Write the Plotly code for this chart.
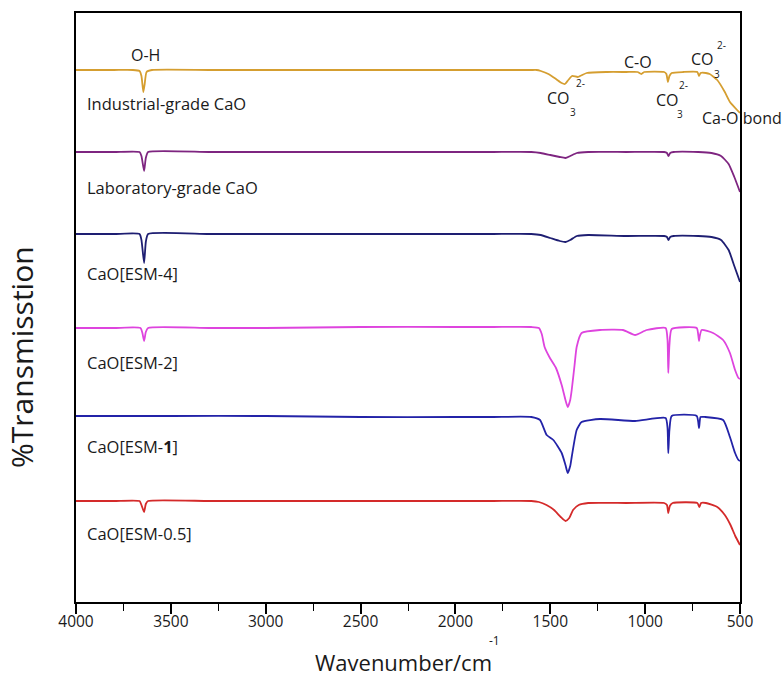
import plotly.graph_objects as go

# ---- data: wavenumber (cm^-1) and transmittance (arbitrary stacked units) ----
ind_w = [4000, 3800, 3700, 3665, 3655, 3645, 3638, 3628, 3600, 3300, 3000, 2500, 2000, 1800, 1600, 1572, 1550, 1510, 1470, 1440, 1423, 1405, 1385, 1354, 1308, 1200, 1100, 1040, 1020, 1005, 900, 888, 880, 872, 860, 800, 725, 716, 708, 680, 660, 620, 580, 553, 525, 500]
ind_t = [532, 532, 532, 531, 526, 510, 518, 530, 532, 532, 532, 532, 532, 532, 532, 532, 531, 528, 523, 519, 518, 522, 526, 525, 529, 530, 530, 530, 528, 530, 530, 528, 520, 526, 529, 530, 530, 526, 529, 529, 528, 522, 510, 500, 494, 489]

lab_w = [4000, 3800, 3665, 3655, 3641, 3632, 3620, 3300, 3000, 2500, 2000, 1800, 1600, 1550, 1500, 1450, 1420, 1395, 1360, 1300, 1100, 900, 885, 877, 868, 850, 720, 650, 600, 560, 530, 500]
lab_t = [450, 450, 450, 446, 431, 444, 450, 450, 450, 450, 450, 450, 450, 449, 447, 445, 444, 446, 449, 450, 450, 450, 449, 446, 449, 450, 450, 449, 446, 438, 425, 410]

esm4_w = [4000, 3800, 3665, 3655, 3641, 3632, 3620, 3300, 3000, 2500, 2000, 1800, 1600, 1550, 1500, 1450, 1420, 1395, 1360, 1300, 1100, 900, 885, 877, 868, 850, 720, 650, 600, 560, 530, 500]
esm4_t = [368, 368, 368, 362, 339, 360, 368, 368, 368, 368, 368, 368, 368, 367, 364, 361, 360, 362, 366, 367, 366, 366, 365, 362, 365, 366, 366, 365, 362, 352, 336, 320]

esm2_w = [4000, 3800, 3660, 3650, 3641, 3632, 3620, 3300, 3000, 2500, 2000, 1800, 1600, 1560, 1545, 1530, 1502, 1470, 1440, 1420, 1408, 1395, 1387, 1372, 1361, 1335, 1238, 1117, 1053, 992, 892, 882, 878, 872, 860, 728, 720, 716, 712, 702, 642, 589, 553, 526, 508, 500]
esm2_t = [274, 274, 274, 269, 261, 270, 274, 274, 274, 275, 275, 275, 275, 274, 268, 255, 244, 234, 217, 202, 195, 202, 212, 237, 255, 269, 272, 272, 267, 272, 274, 262, 229, 257, 273, 274, 267, 261, 266, 272, 269, 262, 249, 232, 224, 223]

esm1_w = [4000, 3500, 3000, 2500, 2000, 1800, 1600, 1554, 1519, 1484, 1440, 1420, 1408, 1395, 1387, 1361, 1335, 1238, 1053, 892, 882, 878, 872, 860, 728, 716, 708, 684, 589, 553, 526, 508, 500]
esm1_t = [186, 186, 186, 185, 185, 185, 185, 182, 167, 162, 149, 137, 129, 136, 145, 172, 180, 183, 181, 184, 174, 149, 172, 186, 186, 174, 185, 185, 182, 165, 149, 142, 141]

esm05_w = [4000, 3800, 3665, 3655, 3641, 3632, 3620, 3300, 3000, 2500, 2000, 1800, 1600, 1560, 1520, 1480, 1445, 1420, 1400, 1380, 1350, 1300, 1100, 900, 885, 878, 870, 855, 725, 714, 705, 680, 620, 580, 550, 525, 500]
esm05_t = [101, 101, 101, 97, 90, 98, 101, 101, 101, 101, 101, 101, 101, 100, 97, 92, 85, 81, 84, 92, 97, 99, 99, 99, 97, 89, 96, 99, 99, 95, 99, 99, 95, 87, 77, 66, 57]

series_names = ["Industrial-grade CaO", "Laboratory-grade CaO", "CaO[ESM-4]",
                "CaO[ESM-2]", "CaO[ESM-<b>1</b>]", "CaO[ESM-0.5]"]
series_w = [ind_w, lab_w, esm4_w, esm2_w, esm1_w, esm05_w]
series_t = [ind_t, lab_t, esm4_t, esm2_t, esm1_t, esm05_t]
series_colors = ["#D59E30", "#7E2580", "#1E1E72", "#DE44DE", "#2323A8", "#D42A2A"]
label_t = [499, 415, 329, 240, 156, 69]

x_ticks = [4000, 3500, 3000, 2500, 2000, 1500, 1000, 500]

FONT = "Open Sans"
TXT = "#1a1a1a"

fig = go.Figure()
for w, t, c, nm in zip(series_w, series_t, series_colors, series_names):
    fig.add_trace(go.Scatter(x=w, y=t, mode="lines", name=nm,
                             line=dict(color=c, width=1.8, shape="spline", smoothing=0.5),
                             showlegend=False, hoverinfo="skip"))

anns = []
for nm, yt in zip(series_names, label_t):
    anns.append(dict(x=3955, y=yt, xref="x", yref="y", text=nm, showarrow=False,
                     xanchor="left", yanchor="middle",
                     font=dict(family=FONT, size=16.5, color=TXT)))

# peak labels
peak = [("O-H", 3636, 547, 16), ("C-O", 1038, 540, 16),
        ("CO", 700, 543, 16), ("2-", 595, 557, 10), ("3", 621, 528, 10),
        ("CO", 1459, 504, 16), ("2-", 1343, 519, 10), ("3", 1380, 490, 10),
        ("CO", 880, 502, 16), ("2-", 800, 517, 10), ("3", 818, 488, 10)]
for txt, xx, yy, fs in peak:
    anns.append(dict(x=xx, y=yy, xref="x", yref="y", text=txt, showarrow=False,
                     xanchor="center", yanchor="middle",
                     font=dict(family=FONT, size=fs, color=TXT)))
# Ca-O bond label sits just beyond the 500 cm-1 edge
anns.append(dict(x=1.003, y=0.821, xref="paper", yref="paper", text="Ca-O bond",
                 showarrow=False, xanchor="center", yanchor="middle",
                 font=dict(family=FONT, size=16, color=TXT)))

# axis titles
anns.append(dict(x=0.4925, y=-0.102, xref="paper", yref="paper", text="Wavenumber/cm",
                 showarrow=False, xanchor="center", yanchor="middle",
                 font=dict(family=FONT, size=22, color=TXT)))
anns.append(dict(x=0.63, y=-0.066, xref="paper", yref="paper", text="-1",
                 showarrow=False, xanchor="center", yanchor="middle",
                 font=dict(family=FONT, size=12, color=TXT)))
anns.append(dict(x=-0.0813, y=0.416, xref="paper", yref="paper", text="%Transmisstion",
                 showarrow=False, xanchor="center", yanchor="middle", textangle=-90,
                 font=dict(family=FONT, size=30, color=TXT)))

fig.update_layout(
    width=784, height=678,
    margin=dict(l=76, r=44, t=13, b=76),
    paper_bgcolor="white", plot_bgcolor="white",
    annotations=anns,
    xaxis=dict(range=[4000, 500], tickvals=x_ticks, ticks="outside", ticklen=10,
               tickwidth=1.5, tickcolor="black", ticklabelstandoff=-6,
               minor=dict(dtick=250, ticks="outside", ticklen=7, tickwidth=1.3, tickcolor="black", showgrid=False),
               showline=True, linecolor="black", linewidth=1.8, mirror=True,
               showgrid=False, zeroline=False,
               tickfont=dict(family=FONT, size=15.5, color=TXT)),
    yaxis=dict(range=[0, 589], showticklabels=False, ticks="",
               showline=True, linecolor="black", linewidth=1.8, mirror=True,
               showgrid=False, zeroline=False),
)

fig.write_html("out.html", config={"displayModeBar": False},
               post_script="document.body.style.margin='0';document.body.style.overflow='hidden';")
